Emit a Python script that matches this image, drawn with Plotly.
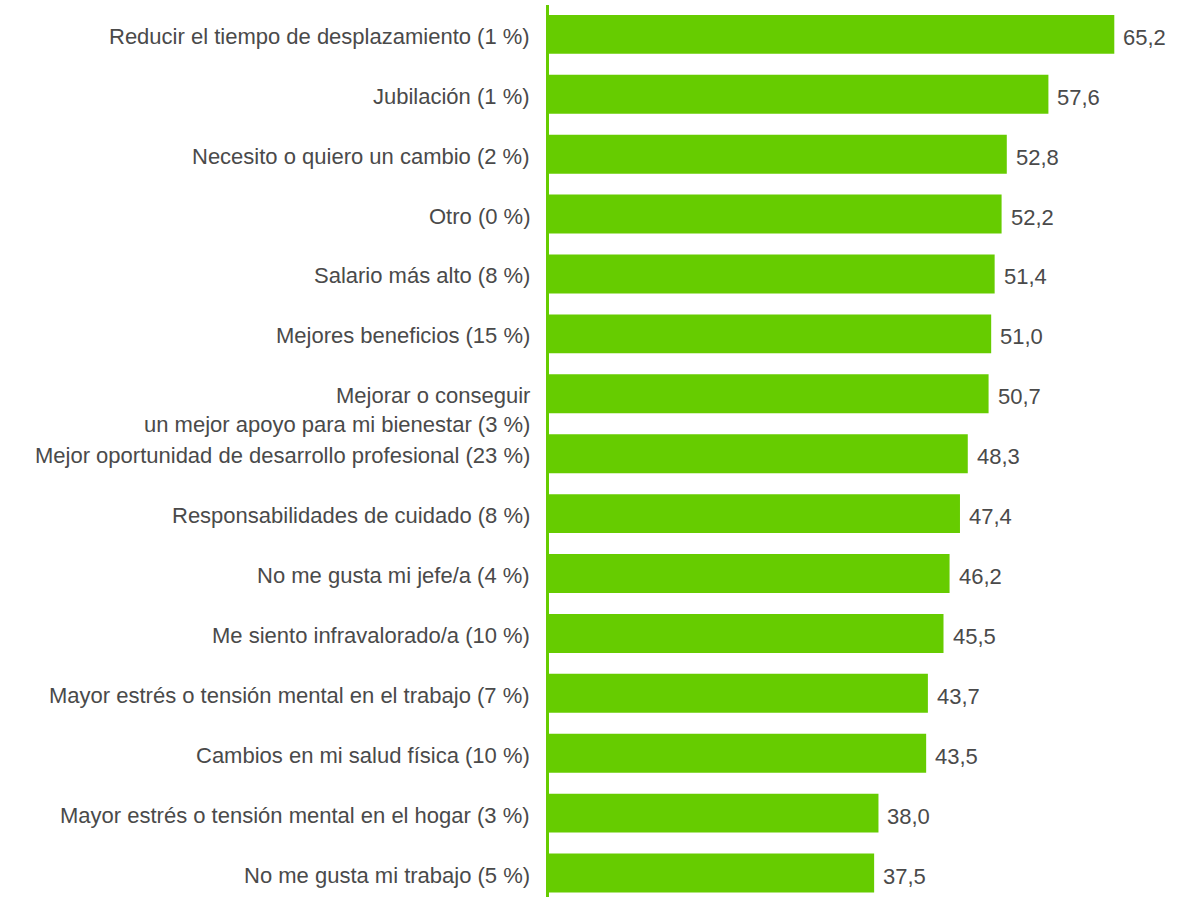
import plotly.graph_objects as go

# Reasons, top to bottom, with the share of respondents in brackets
categories = [
    "Reducir el tiempo de desplazamiento (1 %)",
    "Jubilación (1 %)",
    "Necesito o quiero un cambio (2 %)",
    "Otro (0 %)",
    "Salario más alto (8 %)",
    "Mejores beneficios (15 %)",
    "Mejorar o conseguir<br>un mejor apoyo para mi bienestar (3 %)",
    "Mejor oportunidad de desarrollo profesional (23 %)",
    "Responsabilidades de cuidado (8 %)",
    "No me gusta mi jefe/a (4 %)",
    "Me siento infravalorado/a (10 %)",
    "Mayor estrés o tensión mental en el trabajo (7 %)",
    "Cambios en mi salud física (10 %)",
    "Mayor estrés o tensión mental en el hogar (3 %)",
    "No me gusta mi trabajo (5 %)",
]
values = [65.2, 57.6, 52.8, 52.2, 51.4, 51.0, 50.7, 48.3, 47.4, 46.2, 45.5, 43.7, 43.5, 38.0, 37.5]

GREEN = "#66CC00"
TEXT = "#4a4a4a"
FONT = "Liberation Sans, Arial, sans-serif"
LABEL_SIZE = 22
LINE_HEIGHT = LABEL_SIZE * 1.3

positions = list(range(len(categories)))

fig = go.Figure(
    go.Bar(
        x=values,
        y=positions,
        orientation="h",
        marker=dict(color=GREEN, line=dict(width=0)),
        width=0.65,
        hoverinfo="skip",
    )
)

# Category labels, right-aligned against the axis line; a wrapped label
# keeps its first line level with the bar and runs on below it
for pos, label in zip(positions, categories):
    extra_lines = label.count("<br>")
    fig.add_annotation(
        x=0, y=pos, xref="x", yref="y",
        text=label, showarrow=False,
        xanchor="right", yanchor="middle", align="right",
        xshift=-17, yshift=-2 - extra_lines * LINE_HEIGHT / 2,
        font=dict(family=FONT, size=LABEL_SIZE, color=TEXT),
    )

# Value labels just past the end of each bar, with a decimal comma
for pos, val in zip(positions, values):
    fig.add_annotation(
        x=val, y=pos, xref="x", yref="y",
        text=f"{val:.1f}".replace(".", ","),
        showarrow=False, xanchor="left", yanchor="middle",
        xshift=7, yshift=-3,
        font=dict(family=FONT, size=22, color=TEXT),
    )

fig.update_layout(
    width=1188, height=897,
    margin=dict(l=549, r=0, t=5, b=0),
    paper_bgcolor="white", plot_bgcolor="white",
    showlegend=False,
    font=dict(family=FONT, size=LABEL_SIZE, color=TEXT),
)
fig.update_xaxes(
    range=[0, 73.7], visible=False, showgrid=False, zeroline=False,
)
fig.update_yaxes(
    range=[14.4, -0.49],
    showticklabels=False, ticks="",
    showgrid=False, zeroline=False,
    showline=True, linecolor=GREEN, linewidth=3,
    automargin=False,
)

fig.write_html("out.html")
